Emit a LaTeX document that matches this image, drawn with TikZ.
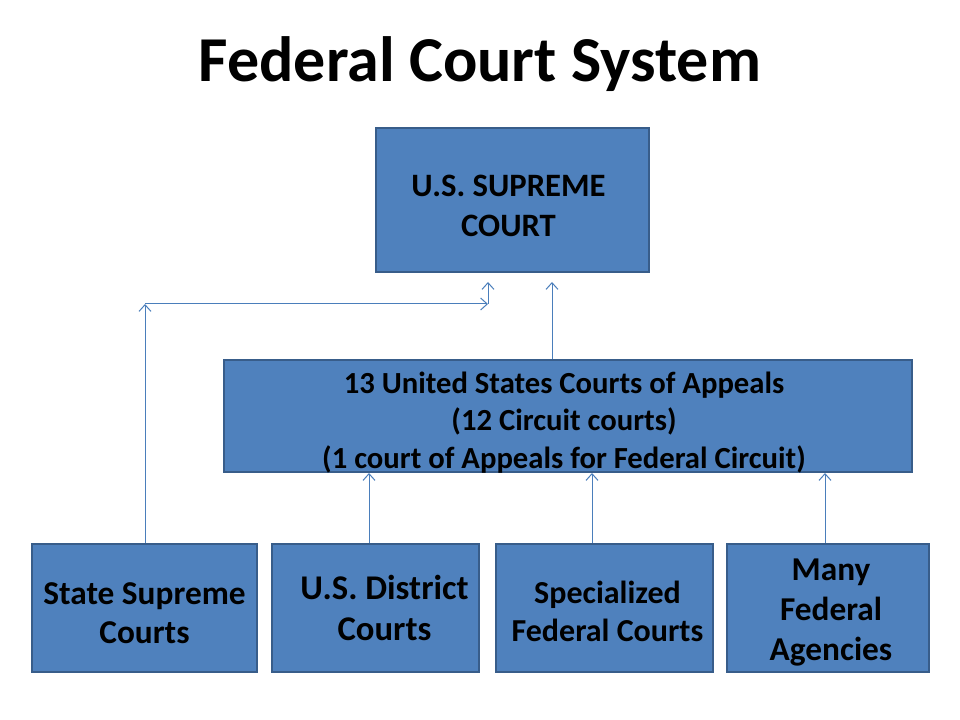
\documentclass[tikz,border=0pt]{standalone}
\usepackage{fontspec}
\setmainfont{Carlito}
\usetikzlibrary{arrows.meta}
\definecolor{boxfill}{HTML}{4F81BD}
\definecolor{boxedge}{HTML}{385D8A}
\definecolor{linkc}{HTML}{4A7EBB}
\tikzset{
  courtbox/.style={draw=boxedge, line width=1.5pt, fill=boxfill, inner sep=0pt},
  boxtext/.style={inner sep=0pt, align=center},
  link/.style={draw=linkc, line width=0.75pt, -{Straight Barb[length=5pt,width=9pt,line width=0.75pt]}},
}
\begin{document}
\begin{tikzpicture}[x=0.75pt,y=-0.75pt]
\useasboundingbox (0,0) rectangle (960,720);
\node[font=\bfseries\fontsize{48}{54}\selectfont] (title) at (480,64) {Federal Court System};
\node[courtbox, minimum width=273*0.75pt, minimum height=144*0.75pt] (sc) at (512.5,200) {};
\node[courtbox, minimum width=688*0.75pt, minimum height=112*0.75pt] (app) at (568,416) {};
\node[courtbox, minimum width=225*0.75pt, minimum height=128*0.75pt] (ssc) at (144.5,608) {};
\node[courtbox, minimum width=207*0.75pt, minimum height=128*0.75pt] (dist) at (375.5,608) {};
\node[courtbox, minimum width=217*0.75pt, minimum height=128*0.75pt] (spec) at (604.5,608) {};
\node[courtbox, minimum width=202*0.75pt, minimum height=128*0.75pt] (agen) at (828,608) {};
\node[boxtext, font=\bfseries\fontsize{24.5}{30}\selectfont] (sctext) at ([shift={(-4,6)}]sc.center) {U.S. SUPREME\\COURT};
\node[boxtext, font=\bfseries\fontsize{23}{28}\selectfont] (apptext) at ([shift={(-4,6.5)}]app.center) {13 United States Courts of Appeals\\(12 Circuit courts)\\(1 court of Appeals for Federal Circuit)};
\node[boxtext, font=\bfseries\fontsize{25}{29}\selectfont] (ssctext) at ([shift={(0,5)}]ssc.center) {State Supreme\\Courts};
\node[boxtext, font=\bfseries\fontsize{26}{31}\selectfont] (disttext) at ([shift={(9,0)}]dist.center) {U.S. District\\Courts};
\node[boxtext, font=\bfseries\fontsize{24}{28.5}\selectfont] (spectext) at ([shift={(3,3)}]spec.center) {Specialized\\Federal Courts};
\node[boxtext, font=\bfseries\fontsize{25}{30}\selectfont] (agentext) at ([shift={(3,5)}]agen.center) {Many\\Federal\\Agencies};
\coordinate (corner) at (145,304);
\coordinate (joint) at (488,304);
\coordinate (jointtop) at (488,282);
\draw[link] (ssc.north -| corner) -- (corner);
\draw[link] (corner) -- (joint);
\draw[link] (joint) -- (jointtop);
\draw[link] (app.north -| 552,0) -- (552,282);
\draw[link] (dist.north -| 369,0) -- (app.south -| 369,0);
\draw[link] (spec.north -| 592,0) -- (app.south -| 592,0);
\draw[link] (agen.north -| 825,0) -- (app.south -| 825,0);
\end{tikzpicture}
\end{document}
